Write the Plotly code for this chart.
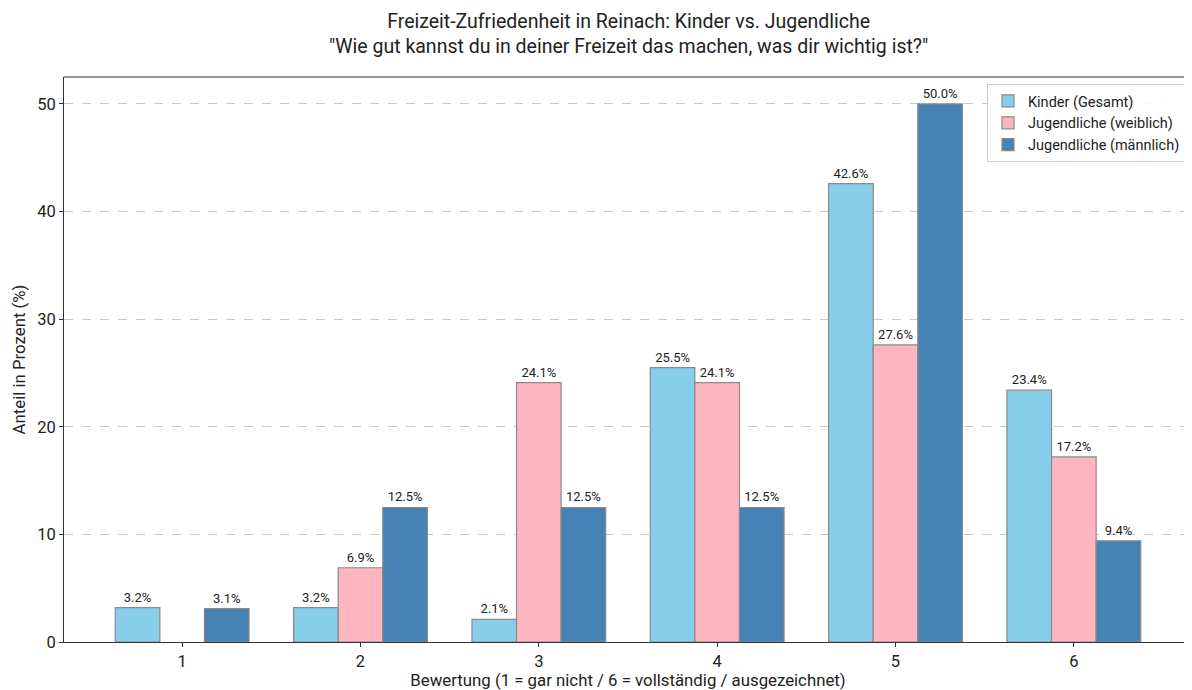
import plotly.graph_objects as go

categories = ["1", "2", "3", "4", "5", "6"]
kinder = [3.2, 3.2, 2.1, 25.5, 42.6, 23.4]
jug_w = [0.0, 6.9, 24.1, 24.1, 27.6, 17.2]
jug_m = [3.1, 12.5, 12.5, 12.5, 50.0, 9.4]

series = [
    ("Kinder (Gesamt)", kinder, "#87CEEB"),
    ("Jugendliche (weiblich)", jug_w, "#FFB6C1"),
    ("Jugendliche (männlich)", jug_m, "#4682B4"),
]

FONT = "Roboto"
xpos = list(range(len(categories)))

fig = go.Figure()
for name, vals, col in series:
    fig.add_trace(go.Bar(
        x=xpos, y=[v if v > 0 else None for v in vals], name=name,
        marker=dict(color=col, line=dict(color="#8a8a8a", width=1.2)),
        text=[f"{v:.1f}%" if v > 0 else "" for v in vals],
        textposition="outside",
        textfont=dict(size=13, color="#222222", family=FONT),
        cliponaxis=False,
    ))

# page body has an 8px margin; compensate so the plot lands where the reference has it
OFF = 8
W, H = 1192 - OFF, 690 - OFF
L, R, T, B = 64 - OFF, 0, 77 - OFF, 48
PW = W - L - R
PH = H - T - B
fig.update_layout(
    width=W, height=H,
    margin=dict(l=L, r=R, t=T, b=B),
    barmode="group", bargap=0.25, bargroupgap=0,
    plot_bgcolor="white", paper_bgcolor="white",
    font=dict(family=FONT, color="#222222"),
    showlegend=True,
    legend=dict(
        x=(1186 - 64) / PW, xanchor="right", y=1 - (84 - 77) / PH, yanchor="top",
        bordercolor="#cccccc", borderwidth=1, bgcolor="rgba(255,255,255,0.9)",
        font=dict(size=14.5, family=FONT, color="#222222"),
        tracegroupgap=2,
    ),
)
fig.update_xaxes(
    range=[-0.6625, 5.6625],
    tickmode="array", tickvals=xpos, ticktext=categories,
    ticks="outside", ticklen=4, tickcolor="#333333",
    tickfont=dict(size=16.5, family=FONT, color="#222222"),
    showline=True, linecolor="#333333", linewidth=1,
    showgrid=False, zeroline=False,
    title=dict(text="Bewertung (1 = gar nicht / 6 = vollständig / ausgezeichnet)",
               font=dict(size=16.8, family=FONT, color="#222222"), standoff=3),
)
fig.update_yaxes(
    range=[0, 52.5],
    tickvals=[0, 10, 20, 30, 40, 50],
    ticks="outside", ticklen=4, tickcolor="#333333",
    tickfont=dict(size=16.5, family=FONT, color="#222222"),
    showline=True, linecolor="#333333", linewidth=1, mirror=False,
    showgrid=True, gridcolor="#c8c8c8", griddash="dash", gridwidth=1,
    zeroline=False,
    title=dict(text="Anteil in Prozent (%)",
               font=dict(size=16.8, family=FONT, color="#222222"), standoff=7),
)
# top spine
fig.add_shape(type="line", xref="paper", yref="paper", x0=0, x1=1, y0=1, y1=1,
              line=dict(color="#333333", width=1))
fig.add_annotation(
    text="Freizeit-Zufriedenheit in Reinach: Kinder vs. Jugendliche<br>\"Wie gut kannst du in deiner Freizeit das machen, was dir wichtig ist?\"",
    xref="paper", yref="paper", x=0.5, y=1 + (77 - 8) / PH,
    xanchor="center", yanchor="top", showarrow=False,
    font=dict(size=19.5, family=FONT, color="#222222"),
)
fig.write_html("out.html")
